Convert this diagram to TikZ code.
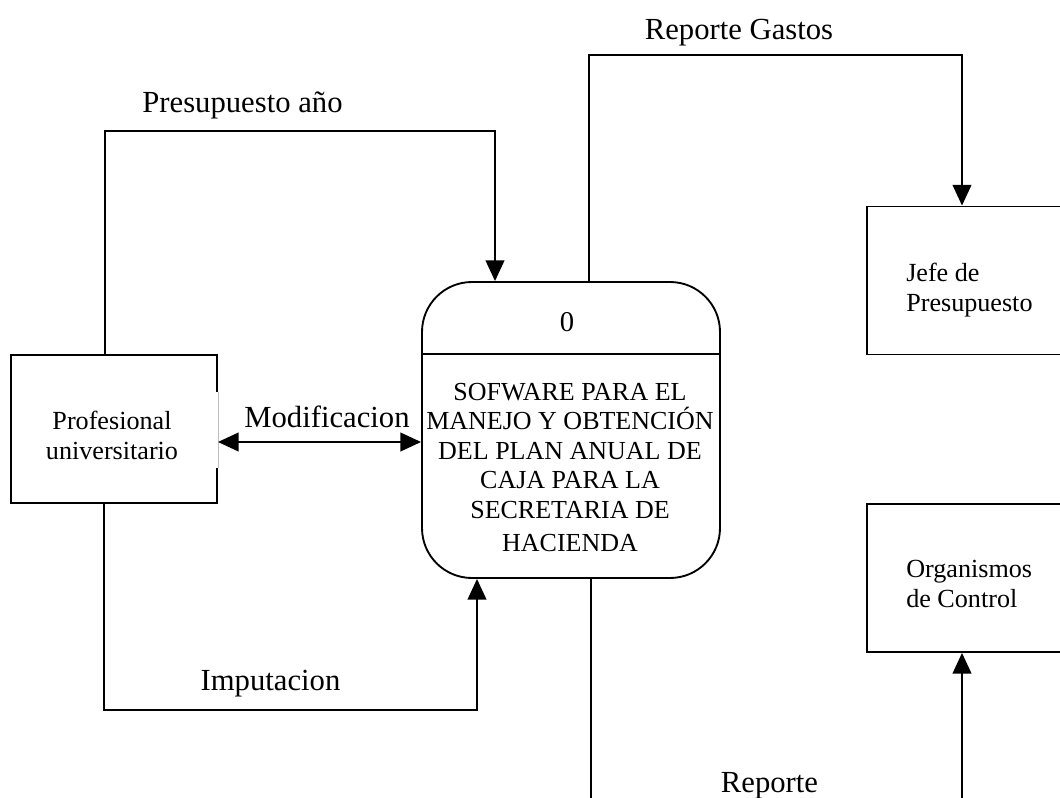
\documentclass[tikz,border=0pt]{standalone}
\usepackage{fontspec}
\setmainfont{Liberation Serif}
\usetikzlibrary{arrows.meta}
\begin{document}
\begin{tikzpicture}[x=0.75pt,y=-0.75pt,
  ln/.style={line width=1.4pt},
  box/.style={draw, line width=1.4pt, minimum width=154.5pt, minimum height=111pt, inner sep=0pt},
  proc/.style={draw, line width=1.4pt, rounded corners=37.5pt, minimum width=223.5pt, minimum height=222pt, inner sep=0pt},
  boxtxt/.style={font=\fontsize{19.6}{22.5}\selectfont, inner sep=0pt},
  proctxt/.style={font=\fontsize{19.5}{22.1}\selectfont, inner sep=0pt},
  lbl/.style={font=\fontsize{23}{27}\selectfont, inner sep=0pt, anchor=base},
  flow/.style={line width=1.4pt, -{Triangle[length=15.5pt,width=14pt]}},
  bflow/.style={line width=1.4pt, {Triangle[length=15.5pt,width=14pt]}-{Triangle[length=15.5pt,width=14pt]}}
]
\useasboundingbox (0,0) rectangle (1060,798);
\clip (0,0) rectangle (1060,798);

% boxes
\node[box] (prof) at (114,429) {};
\node[box] (jefe) at (970,280.5) {};
\node[box] (org) at (970,578) {};
\node[proc] (proc) at (571,430) {};
\draw[ln] ([yshift=-54.75pt]proc.north west) -- ([yshift=-54.75pt]proc.north east);

% gap in right edge of Profesional box
\draw[white, line width=2.5pt] ([yshift=27.75pt]prof.east) -- ([yshift=-29.25pt]prof.east);
\draw[black!25, line width=0.3pt] ([yshift=27.75pt]prof.east) -- ([yshift=-29.25pt]prof.east);

% box texts
\node[boxtxt, anchor=north, align=center] (proft) at (112,410.5) {Profesional\\universitario};
\node[boxtxt, anchor=north west, align=left] (jefet) at (906,263) {Jefe de\\Presupuesto};
\node[boxtxt, anchor=north west, align=left] (orgt) at (906,560) {Organismos\\de Control};
\node[font=\fontsize{21.5}{24}\selectfont, inner sep=0pt, anchor=base] (procnum) at (567,332) {0};
\node[proctxt, anchor=north, align=center] (proct) at (570,383)
  {SOFWARE PARA EL\\MANEJO Y OBTENCIÓN\\DEL PLAN ANUAL DE\\CAJA PARA LA\\SECRETARIA DE\\[3pt]HACIENDA};

% connectors
\draw[flow] ([xshift=-6.75pt]prof.north) -- ++(0,-223) -| ([xshift=-57pt]proc.north);
\draw[flow] ([xshift=13.5pt]proc.north) -- ++(0,-226) -| ([xshift=-6pt]jefe.north);
\draw[bflow] ([yshift=-9.75pt]prof.east) -- ([yshift=-9.75pt]prof.east -| proc.west);
\draw[flow] ([xshift=-7.5pt]prof.south) -- ++(0,206) -| ([xshift=-70.5pt]proc.south);
\draw[flow] ([xshift=15pt]proc.south) -- ++(0,270) -| ([xshift=-6pt]org.south);

% labels
\node[lbl] (lpres) at (242.5,113) {Presupuesto año};
\node[lbl] (lrep) at (739,40) {Reporte Gastos};
\node[lbl] (lmod) at (327,427) {Modificacion};
\node[lbl] (limp) at (270.5,690) {Imputacion};
\node[lbl] (lrpt) at (769.5,792) {Reporte};
\end{tikzpicture}
\end{document}
